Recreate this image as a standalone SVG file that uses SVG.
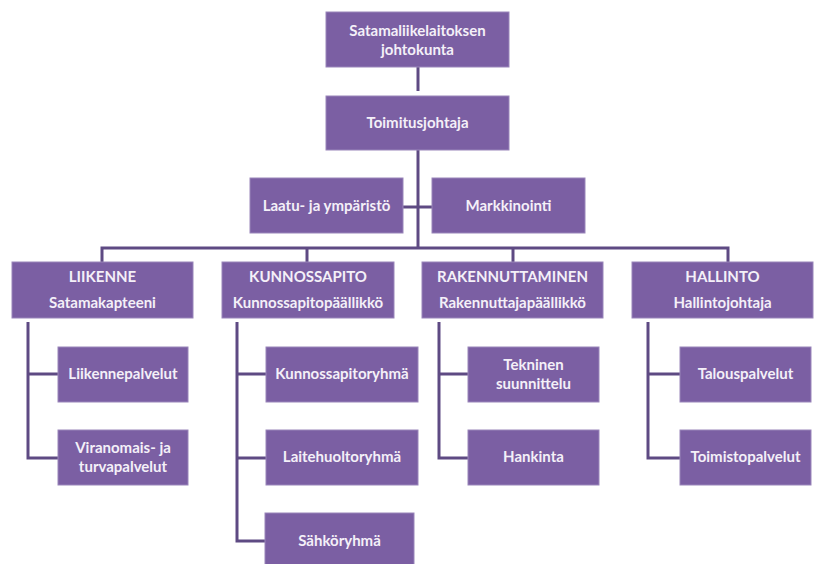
<svg xmlns="http://www.w3.org/2000/svg" width="814" height="564" viewBox="0 0 814 564">
<style>
.b{fill:#7b5fa3;stroke:#9a86ba;stroke-width:1}
.t{font-family:Lato,"Open Sans","Liberation Sans",sans-serif;font-size:15px;font-weight:bold;fill:#f4f0f8;text-anchor:middle}
.c{fill:none;stroke:#5e4a83;stroke-width:3}
</style>
<rect width="814" height="564" fill="#ffffff"/>
<g id="connectors" class="c">
<path d="M418 67V91"/>
<path d="M418 150V248"/>
<path d="M403 207H432"/>
<path d="M102 262V248H728V262"/>
<path d="M307 248V262"/>
<path d="M513 248V262"/>
<path d="M28 322V458H58M28 374H58"/>
<path d="M237 322V541H266M237 374H266M237 458H266"/>
<path d="M439 322V458H468M439 374H468"/>
<path d="M648 322V458H680M648 374H680"/>
</g>
<g id="n_johtokunta"><rect class="b" x="326" y="12" width="183" height="55"/><text class="t" x="417.5" y="36">Satamaliikelaitoksen</text><text class="t" x="417.5" y="55">johtokunta</text></g>
<g id="n_toimitusjohtaja"><rect class="b" x="326" y="96" width="183" height="54"/><text class="t" x="417.5" y="128">Toimitusjohtaja</text></g>
<g id="n_laatu"><rect class="b" x="250" y="178" width="153" height="55"/><text class="t" x="326.5" y="211">Laatu- ja ympäristö</text></g>
<g id="n_markkinointi"><rect class="b" x="432" y="178" width="153" height="55"/><text class="t" x="508.5" y="211">Markkinointi</text></g>
<g id="n_liikenne"><rect class="b" x="12" y="262" width="181" height="56"/><text class="t" x="102.5" y="282">LIIKENNE</text><text class="t" x="102.5" y="308">Satamakapteeni</text></g>
<g id="n_kunnossapito"><rect class="b" x="222" y="262" width="172" height="56"/><text class="t" x="308" y="282">KUNNOSSAPITO</text><text class="t" x="308" y="308">Kunnossapitopäällikkö</text></g>
<g id="n_rakennuttaminen"><rect class="b" x="422" y="262" width="181" height="56"/><text class="t" x="512.5" y="282">RAKENNUTTAMINEN</text><text class="t" x="512.5" y="308">Rakennuttajapäällikkö</text></g>
<g id="n_hallinto"><rect class="b" x="632" y="262" width="181" height="56"/><text class="t" x="722.5" y="282">HALLINTO</text><text class="t" x="722.5" y="308">Hallintojohtaja</text></g>
<g id="n_liikennepalvelut"><rect class="b" x="58" y="347" width="130" height="55"/><text class="t" x="123" y="379">Liikennepalvelut</text></g>
<g id="n_viranomais"><rect class="b" x="58" y="430" width="130" height="55"/><text class="t" x="123" y="453">Viranomais- ja</text><text class="t" x="123" y="472">turvapalvelut</text></g>
<g id="n_kunnossapitoryhma"><rect class="b" x="266" y="347" width="152" height="55"/><text class="t" x="342" y="379">Kunnossapitoryhmä</text></g>
<g id="n_laitehuoltoryhma"><rect class="b" x="266" y="430" width="152" height="55"/><text class="t" x="342" y="462">Laitehuoltoryhmä</text></g>
<g id="n_sahkoryhma"><rect class="b" x="265" y="513" width="149" height="55"/><text class="t" x="339.5" y="546">Sähköryhmä</text></g>
<g id="n_tekninen"><rect class="b" x="468" y="347" width="131" height="55"/><text class="t" x="533.5" y="370">Tekninen</text><text class="t" x="533.5" y="389">suunnittelu</text></g>
<g id="n_hankinta"><rect class="b" x="468" y="430" width="131" height="55"/><text class="t" x="533.5" y="462">Hankinta</text></g>
<g id="n_talouspalvelut"><rect class="b" x="680" y="347" width="131" height="55"/><text class="t" x="745.5" y="379">Talouspalvelut</text></g>
<g id="n_toimistopalvelut"><rect class="b" x="680" y="430" width="131" height="55"/><text class="t" x="745.5" y="462">Toimistopalvelut</text></g>
</svg>
